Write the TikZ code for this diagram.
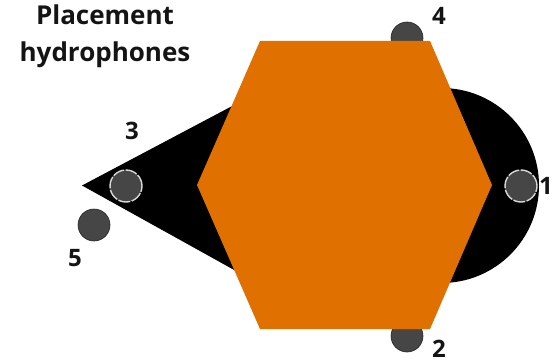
\documentclass[tikz,border=0pt]{standalone}
\usepackage{fontspec}
\setmainfont{Open Sans}
\definecolor{hexorange}{HTML}{E07000}
\definecolor{phone}{HTML}{464646}
\tikzset{
  phonedot/.style={circle,fill=phone,draw=black!85,line width=0.6pt,minimum size=32pt,inner sep=0pt},
  phoneringed/.style={circle,fill=phone,draw=white!85!black,line width=1.4pt,dash pattern=on 12pt off 1.5pt,minimum size=32pt,inner sep=0pt},
  lab/.style={font=\bfseries\fontsize{24}{36}\selectfont,text=black!92,inner sep=0pt},
  titlelab/.style={font=\bfseries\fontsize{26}{37}\selectfont,text=black!92,inner sep=0pt,align=center},
  hexshape/.style={fill=hexorange,draw=none},
  backshape/.style={fill=black,draw=none}
}
\begin{document}
\begin{tikzpicture}[x=1pt,y=-1pt]
\useasboundingbox (0,0) rectangle (553,361);
\fill[white] (0,0) rectangle (553,361);
\node[phonedot] (p4) at (407,38) {};
\node[phonedot] (p2) at (407,336) {};
\path[backshape] (82,185.5) -- (236,104) -- (236,271) -- cycle;
\path[backshape] (441.5,88) arc[start angle=-90,end angle=90,radius=97.5] -- cycle;
\node[phoneringed] (p3) at (126,186) {};
\node[phoneringed] (p1) at (521,186) {};
\node[phonedot] (p5) at (94,225) {};
\path[hexshape] (197,185) -- (260,41) -- (430,41) -- (492,185) -- (430,329) -- (260,329) -- cycle;
\node[titlelab] (title) at (105,36.5) {Placement\\hydrophones};
\node[lab] (l3) at (132,131) {3};
\node[lab] (l5) at (75,258) {5};
\node[lab] (l4) at (439,16) {4};
\node[lab] (l2) at (439,348.5) {2};
\node[lab,anchor=east] (l1) at (553,186) {1};
\end{tikzpicture}
\end{document}
